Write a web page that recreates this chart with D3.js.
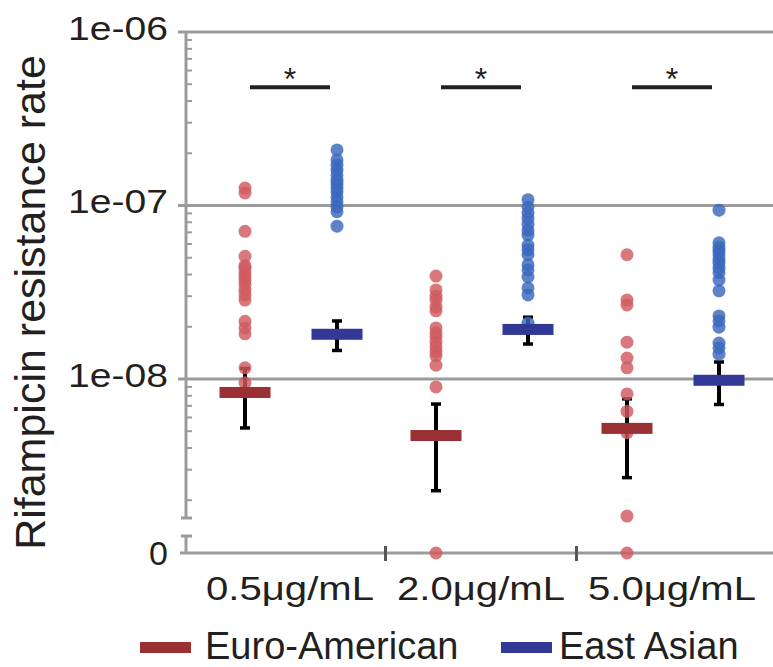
<!DOCTYPE html>
<html>
<head>
<meta charset="utf-8">
<script src="https://cdn.jsdelivr.net/npm/d3@7/dist/d3.min.js"></script>
<style>
  html, body { margin: 0; padding: 0; background: #fff; }
  svg { display: block; }
  text { font-family: "Liberation Sans", Arial, Helvetica, sans-serif; fill: #231f20; }
</style>
</head>
<body>
<svg id="chart" width="773" height="667"></svg>
<script>
// ---------------- data ----------------
const categories = ["0.5μg/mL", "2.0μg/mL", "5.0μg/mL"];
const groups = ["Euro-American", "East Asian"];
const yTickValues = [1e-8, 1e-7, 1e-6];
const yTickLabels = ["1e-08", "1e-07", "1e-06"];
const zeroLabel = "0";
const yTitle = "Rifampicin resistance rate";

// individual measurements (0 = zero value shown on the broken axis)
const euro05 = [1.26e-7, 1.18e-7, 7.1e-8, 5.1e-8, 4.5e-8, 4.35e-8, 4.1e-8, 3.9e-8, 3.7e-8, 3.5e-8, 3.25e-8, 3.05e-8, 2.85e-8, 2.15e-8, 1.97e-8, 1.82e-8, 1.16e-8, 9.5e-9];
const asia05 = [2.09e-7, 1.83e-7, 1.71e-7, 1.6e-7, 1.5e-7, 1.4e-7, 1.33e-7, 1.26e-7, 1.2e-7, 1.12e-7, 1.05e-7, 9.8e-8, 9.2e-8, 7.6e-8];
const euro20 = [3.92e-8, 3.26e-8, 3.0e-8, 2.85e-8, 2.6e-8, 2.47e-8, 1.97e-8, 1.84e-8, 1.75e-8, 1.63e-8, 1.53e-8, 1.43e-8, 1.36e-8, 1.2e-8, 9.0e-9, 0];
const asia20 = [1.08e-7, 9.8e-8, 9.05e-8, 8.45e-8, 7.8e-8, 7.2e-8, 6.75e-8, 5.9e-8, 5.55e-8, 5.2e-8, 4.55e-8, 4.25e-8, 3.87e-8, 3.35e-8, 3.05e-8, 2.1e-8];
const euro50 = [5.2e-8, 2.85e-8, 2.67e-8, 1.63e-8, 1.32e-8, 1.16e-8, 8.2e-9, 6.5e-9, 4.9e-9, 1.62e-9, 0];
const asia50 = [9.4e-8, 6.1e-8, 5.75e-8, 5.45e-8, 5.2e-8, 4.9e-8, 4.65e-8, 4.35e-8, 4.1e-8, 3.72e-8, 3.22e-8, 2.31e-8, 2.16e-8, 1.99e-8, 1.61e-8, 1.51e-8, 1.39e-8];

// group means and standard errors
const euroMeans = [8.36e-9, 4.72e-9, 5.19e-9];
const euroErrors = [3.14e-9, 2.45e-9, 2.49e-9];
const asiaMeans = [1.81e-8, 1.93e-8, 9.83e-9];
const asiaErrors = [0.35e-8, 0.34e-8, 2.7e-9];

// significance bracket level per category
const sigLevels = [4.8e-7, 4.8e-7, 4.8e-7];
const sigLabels = ["*", "*", "*"];

const pointSets = [
  [euro05, asia05],
  [euro20, asia20],
  [euro50, asia50]
];

// ---------------- styles ----------------
const gridColor = "#9b9b9b";
const barColors = { "Euro-American": "#9b3034", "East Asian": "#323896" };
const pointColors = { "Euro-American": "#cf5a60", "East Asian": "#3a68bd" };

// ---------------- layout ----------------
const svg = d3.select("#chart");
const W = 773;
const axisX = 186;
const yTop = 32, yBottom = 518, zeroY = 553;

const y = d3.scaleLog().domain([1.58e-9, 1e-6]).range([yBottom, yTop]);
const yPos = v => v === 0 ? zeroY : y(v);

const x = d3.scaleBand().domain(categories).range([194.5, 767.5]).paddingInner(0).paddingOuter(0);
const xSub = d3.scaleOrdinal().domain(groups).range([-45, 47]);
const cx = (cat, g) => x(cat) + x.bandwidth() / 2 + xSub(g);

// gridlines
svg.append("g").selectAll("line").data(yTickValues).join("line")
  .attr("x1", axisX - 8).attr("x2", W)
  .attr("y1", d => y(d)).attr("y2", d => y(d))
  .attr("stroke", gridColor).attr("stroke-width", 3);

// y axis main line
svg.append("line").attr("x1", axisX).attr("x2", axisX)
  .attr("y1", yTop).attr("y2", yBottom)
  .attr("stroke", gridColor).attr("stroke-width", 3);
// bottom cap of main segment
svg.append("line").attr("x1", axisX - 5).attr("x2", axisX + 6)
  .attr("y1", yBottom).attr("y2", yBottom)
  .attr("stroke", gridColor).attr("stroke-width", 3);
// broken segment down to zero
const breakTop = yBottom + 18;
svg.append("line").attr("x1", axisX).attr("x2", axisX)
  .attr("y1", breakTop).attr("y2", zeroY)
  .attr("stroke", gridColor).attr("stroke-width", 3);
svg.append("line").attr("x1", axisX - 5).attr("x2", axisX + 6)
  .attr("y1", breakTop).attr("y2", breakTop)
  .attr("stroke", gridColor).attr("stroke-width", 3);

// minor ticks
const minor = [];
[-9, -8, -7].forEach(e => { for (let k = 2; k <= 9; k++) minor.push(k * Math.pow(10, e)); });
const minorIn = minor.filter(v => v >= y.domain()[0] && v <= y.domain()[1]);
svg.append("g").selectAll("line").data(minorIn).join("line")
  .attr("x1", axisX).attr("x2", axisX + 6)
  .attr("y1", d => y(d)).attr("y2", d => y(d))
  .attr("stroke", gridColor).attr("stroke-width", 2);

// y tick labels through axis
const yAxis = d3.axisLeft(y).tickValues(yTickValues)
  .tickFormat((d, i) => yTickLabels[i]).tickSize(0).tickPadding(0);
const gy = svg.append("g").attr("transform", `translate(${axisX - 18},0)`).call(yAxis);
gy.select(".domain").remove();
gy.selectAll("text")
  .attr("font-size", 34)
  .attr("font-family", "Liberation Sans, Arial, sans-serif")
  .attr("fill", "#231f20")
  .attr("dy", "0.22em")
  .attr("textLength", 100)
  .attr("lengthAdjust", "spacingAndGlyphs");

// zero label
svg.append("text").attr("x", axisX - 18).attr("y", zeroY).attr("dy", "0.34em")
  .attr("text-anchor", "end").attr("font-size", 34).text(zeroLabel);

// x axis line
svg.append("line").attr("x1", axisX - 6).attr("x2", W)
  .attr("y1", zeroY).attr("y2", zeroY)
  .attr("stroke", gridColor).attr("stroke-width", 3);

// x axis separators and labels
const boundaries = categories.slice(1).map(c => x(c));
svg.append("g").selectAll("line").data(boundaries).join("line")
  .attr("x1", d => d).attr("x2", d => d)
  .attr("y1", zeroY - 7).attr("y2", zeroY + 8)
  .attr("stroke", "#555").attr("stroke-width", 3);

const xAxis = d3.axisBottom(x).tickSize(0).tickPadding(0);
const gx = svg.append("g").attr("transform", `translate(0,${zeroY})`).call(xAxis);
gx.select(".domain").remove();
gx.selectAll("text")
  .attr("font-size", 33)
  .attr("font-family", "Liberation Sans, Arial, sans-serif")
  .attr("fill", "#231f20")
  .attr("y", 47).attr("dy", 0)
  .attr("textLength", 168)
  .attr("lengthAdjust", "spacingAndGlyphs");

// y title
svg.append("text")
  .attr("transform", `translate(45,${(yTop + zeroY) / 2 + 10}) rotate(-90)`)
  .attr("text-anchor", "middle").attr("font-size", 43)
  .text(yTitle);

// error bars (behind points)
const stats = [
  { g: "Euro-American", means: euroMeans, errs: euroErrors },
  { g: "East Asian", means: asiaMeans, errs: asiaErrors }
];
stats.forEach(s => {
  categories.forEach((cat, ci) => {
    const m = s.means[ci], e = s.errs[ci];
    const px = cx(cat, s.g);
    const yHi = y(m + e), yLo = y(m - e);
    const eg = svg.append("g");
    eg.append("line").attr("x1", px).attr("x2", px).attr("y1", yHi).attr("y2", yLo)
      .attr("stroke", "#000").attr("stroke-width", 4);
    [yHi, yLo].forEach(yy => eg.append("line")
      .attr("x1", px - 5).attr("x2", px + 5).attr("y1", yy).attr("y2", yy)
      .attr("stroke", "#000").attr("stroke-width", 3.5));
  });
});

// points
categories.forEach((cat, ci) => {
  groups.forEach((g, gi) => {
    svg.append("g").selectAll("circle").data(pointSets[ci][gi]).join("circle")
      .attr("cx", cx(cat, g))
      .attr("cy", d => yPos(d))
      .attr("r", 6.5)
      .attr("fill", pointColors[g])
      .attr("fill-opacity", 0.82);
  });
});

// mean bars
stats.forEach(s => {
  categories.forEach((cat, ci) => {
    const px = cx(cat, s.g);
    svg.append("rect")
      .attr("x", px - 25.5).attr("width", 51)
      .attr("y", y(s.means[ci]) - 5.5).attr("height", 11)
      .attr("fill", barColors[s.g]);
  });
});

// significance brackets
categories.forEach((cat, ci) => {
  const c = x(cat) + x.bandwidth() / 2;
  const ly = y(sigLevels[ci]);
  svg.append("line").attr("x1", c - 40).attr("x2", c + 40)
    .attr("y1", ly).attr("y2", ly)
    .attr("stroke", "#231f20").attr("stroke-width", 4);
  svg.append("text").attr("x", c).attr("y", ly + 3)
    .attr("text-anchor", "middle").attr("font-size", 32).text(sigLabels[ci]);
});

// legend
const legendItems = [
  { g: groups[0], sx: 140, tx: 205 },
  { g: groups[1], sx: 501, tx: 559 }
];
legendItems.forEach(it => {
  svg.append("rect").attr("x", it.sx).attr("y", 642).attr("width", 51).attr("height", 11)
    .attr("fill", barColors[it.g]);
  svg.append("text").attr("x", it.tx).attr("y", 659).attr("font-size", 38).text(it.g);
});
</script>
</body>
</html>
